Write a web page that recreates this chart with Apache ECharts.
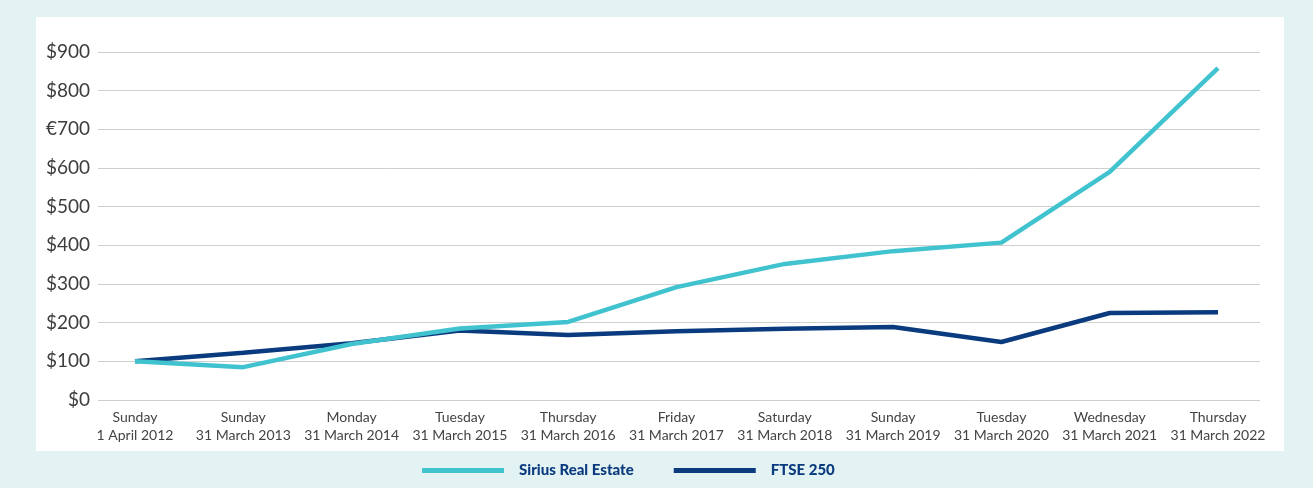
<!DOCTYPE html>
<html>
<head>
<meta charset="utf-8">
<script src="https://cdn.jsdelivr.net/npm/echarts@6/dist/echarts.min.js"></script>
<style>
  html, body { margin: 0; padding: 0; background: #e3f2f3; }
  #chart { width: 1313px; height: 488px; }
</style>
</head>
<body>
<div id="chart"></div>
<script>
// Year-end dates (weekday + date) shown on two lines
const weekdays = ['Sunday', 'Sunday', 'Monday', 'Tuesday', 'Thursday', 'Friday', 'Saturday', 'Sunday', 'Tuesday', 'Wednesday', 'Thursday'];
const dates = ['1 April 2012', '31 March 2013', '31 March 2014', '31 March 2015', '31 March 2016', '31 March 2017', '31 March 2018', '31 March 2019', '31 March 2020', '31 March 2021', '31 March 2022'];

// Value of a $100 investment
const sirius = [100, 85, 145, 185, 202, 292, 352, 385, 407, 590, 858];
const ftse250 = [100, 122, 147, 180, 168, 178, 184, 189, 150, 225, 227];

// Y-axis tick labels (the 700 label carries a euro sign)
const yTickLabels = { 0: '$0', 100: '$100', 200: '$200', 300: '$300', 400: '$400', 500: '$500', 600: '$600', 700: '€700', 800: '$800', 900: '$900' };

const categories = weekdays.map((d, i) => d + '\n' + dates[i]);

const TEAL = '#41c3cf';
const NAVY = '#0b3b7f';
const FONT = 'Lato, "Open Sans", sans-serif';

const chart = echarts.init(document.getElementById('chart'));
chart.setOption({
  backgroundColor: '#e3f2f3',
  animation: false,
  graphic: [{
    type: 'rect',
    z: -10,
    shape: { x: 36, y: 17, width: 1248, height: 434 },
    style: { fill: '#ffffff' },
    silent: true
  }],
  grid: [
    { left: 98, right: 53, top: 52, bottom: 88 },
    { left: 135, right: 95, top: 52, bottom: 88 }
  ],
  xAxis: [
    { gridIndex: 0, type: 'category', data: categories, show: false },
    {
      gridIndex: 1,
      type: 'category',
      data: categories,
      boundaryGap: false,
      axisLine: { show: false },
      axisTick: { show: false },
      axisLabel: {
        interval: 0,
        margin: 8,
        color: '#444444',
        fontFamily: FONT,
        fontSize: 14,
        lineHeight: 18
      }
    }
  ],
  yAxis: [
    {
      gridIndex: 0,
      type: 'value',
      min: 0,
      max: 900,
      interval: 100,
      axisLine: { show: false },
      axisTick: { show: false },
      splitLine: { lineStyle: { color: '#cfcfcf', width: 1 } },
      axisLabel: {
        margin: 8,
        color: '#3d3d3d',
        fontFamily: FONT,
        fontSize: 19,
        formatter: v => yTickLabels[v]
      }
    },
    {
      gridIndex: 1,
      type: 'value',
      min: 0,
      max: 900,
      interval: 100,
      show: false,
      splitLine: { show: false }
    }
  ],
  legend: {
    left: 417,
    top: 458,
    itemWidth: 82,
    itemHeight: 5,
    itemGap: 40,
    icon: 'rect',
    textStyle: {
      color: NAVY,
      fontFamily: FONT,
      fontWeight: 900,
      fontSize: 15,
      padding: [0, 0, 0, 10]
    },
    data: ['Sirius Real Estate', 'FTSE 250']
  },
  series: [
    {
      name: 'FTSE 250',
      type: 'line',
      xAxisIndex: 1,
      yAxisIndex: 1,
      data: ftse250,
      symbol: 'none',
      color: NAVY,
      lineStyle: { color: NAVY, width: 4.5 },
      z: 3
    },
    {
      name: 'Sirius Real Estate',
      type: 'line',
      xAxisIndex: 1,
      yAxisIndex: 1,
      data: sirius,
      symbol: 'none',
      color: TEAL,
      lineStyle: { color: TEAL, width: 4.5 },
      z: 4
    }
  ]
});
</script>
</body>
</html>
